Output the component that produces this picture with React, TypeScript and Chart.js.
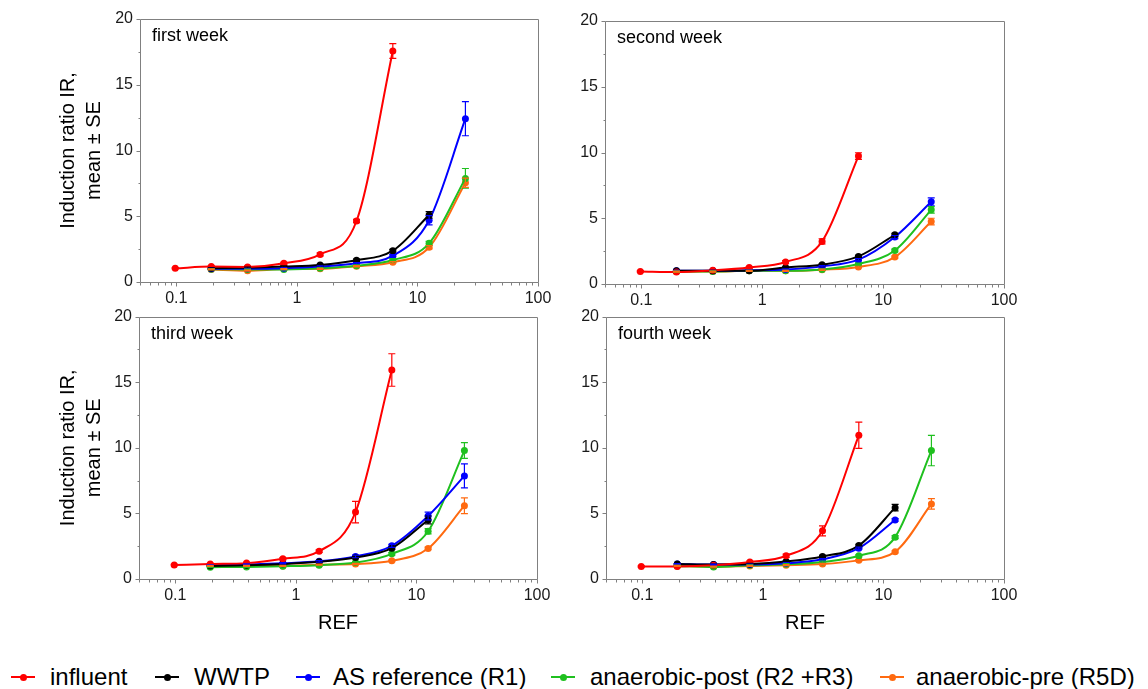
import React, { useEffect, useRef } from "react";
import { Chart, registerables } from "chart.js";

Chart.register(...registerables);

const FONT = "'Liberation Sans', Arial, Helvetica, sans-serif";

// ---------- data ----------
const doses = [0.098, 0.195, 0.39, 0.78, 1.56, 3.125, 6.25, 12.5, 25];
const xTickValues = [0.1, 1, 10, 100];
const yTickValues = [0, 5, 10, 15, 20];
const yMinorTickValues = [2.5, 7.5, 12.5, 17.5];
const seriesNames = ["influent", "WWTP", "AS reference (R1)", "anaerobic-post (R2 +R3)", "anaerobic-pre (R5D)"];
const seriesColors = ["#ff0000", "#000000", "#0000ff", "#1fc01f", "#ff6a10"];
const panelTitles = ["first week", "second week", "third week", "fourth week"];

// week 1
const w1Influent = [1.04, 1.17, 1.15, 1.42, 2.1, 4.64, 17.57, null, null];
const w1InfluentErr = [0.05, 0.05, 0.05, 0.08, 0.12, 0.12, 0.56, null, null];
const w1Wwtp = [null, 1.04, 1.09, 1.17, 1.29, 1.65, 2.38, 5.1, null];
const w1WwtpErr = [null, 0.05, 0.05, 0.05, 0.06, 0.1, 0.1, 0.25, null];
const w1As = [null, 1.0, 1.0, 1.04, 1.17, 1.42, 2.0, 4.7, 12.42];
const w1AsErr = [null, 0.04, 0.04, 0.05, 0.05, 0.06, 0.08, 0.35, 1.3];
const w1Post = [null, 0.97, 0.95, 0.96, 1.04, 1.24, 1.67, 2.94, 7.88];
const w1PostErr = [null, 0.04, 0.04, 0.04, 0.05, 0.06, 0.1, 0.15, 0.75];
const w1Pre = [null, 0.96, 0.86, 0.98, 1.0, 1.2, 1.5, 2.64, 7.55];
const w1PreErr = [null, 0.04, 0.04, 0.04, 0.04, 0.05, 0.06, 0.12, 0.35];

// week 2
const w2Influent = [0.96, 0.91, 1.04, 1.26, 1.67, 3.24, 9.73, null, null];
const w2InfluentErr = [0.05, 0.05, 0.05, 0.06, 0.1, 0.2, 0.25, null, null];
const w2Wwtp = [null, 1.0, 1.0, 1.0, 1.26, 1.47, 2.1, 3.74, null];
const w2WwtpErr = [null, 0.04, 0.04, 0.04, 0.05, 0.06, 0.08, 0.12, null];
const w2As = [null, 1.0, 1.0, 1.04, 1.1, 1.34, 1.85, 3.57, 6.25];
const w2AsErr = [null, 0.04, 0.04, 0.04, 0.05, 0.05, 0.08, 0.12, 0.3];
const w2Post = [null, 0.95, 0.96, 1.0, 1.0, 1.1, 1.52, 2.55, 5.64];
const w2PostErr = [null, 0.04, 0.04, 0.04, 0.04, 0.05, 0.06, 0.1, 0.25];
const w2Pre = [null, 0.95, 0.95, 1.0, 1.0, 1.09, 1.3, 2.05, 4.75];
const w2PreErr = [null, 0.04, 0.04, 0.04, 0.04, 0.05, 0.05, 0.08, 0.25];

// week 3
const w3Influent = [1.06, 1.14, 1.21, 1.54, 2.12, 5.1, 15.93, null, null];
const w3InfluentErr = [0.05, 0.05, 0.05, 0.08, 0.1, 0.82, 1.24, null, null];
const w3Wwtp = [null, 1.0, 1.04, 1.14, 1.31, 1.64, 2.35, 4.5, null];
const w3WwtpErr = [null, 0.04, 0.04, 0.05, 0.05, 0.08, 0.1, 0.3, null];
const w3As = [null, 1.05, 1.1, 1.2, 1.35, 1.72, 2.53, 4.8, 7.86];
const w3AsErr = [null, 0.04, 0.05, 0.05, 0.06, 0.1, 0.12, 0.3, 0.92];
const w3Post = [null, 0.9, 0.92, 0.97, 1.05, 1.25, 1.92, 3.64, 9.79];
const w3PostErr = [null, 0.04, 0.04, 0.04, 0.05, 0.06, 0.1, 0.2, 0.6];
const w3Pre = [null, 1.0, 1.0, 1.0, 1.09, 1.14, 1.39, 2.33, 5.59];
const w3PreErr = [null, 0.04, 0.04, 0.04, 0.04, 0.05, 0.06, 0.1, 0.6];

// week 4
const w4Influent = [0.96, 0.96, 1.04, 1.29, 1.77, 3.67, 10.95, null, null];
const w4InfluentErr = [0.05, 0.05, 0.05, 0.08, 0.12, 0.38, 1.0, null, null];
const w4Wwtp = [null, 1.14, 1.1, 1.14, 1.34, 1.72, 2.55, 5.44, null];
const w4WwtpErr = [null, 0.04, 0.04, 0.05, 0.05, 0.08, 0.1, 0.25, null];
const w4As = [null, 1.14, 1.1, 1.1, 1.2, 1.5, 2.35, 4.5, null];
const w4AsErr = [null, 0.04, 0.04, 0.04, 0.05, 0.06, 0.08, 0.1, null];
const w4Post = [null, 1.0, 0.91, 1.04, 1.12, 1.3, 1.77, 3.19, 9.79];
const w4PostErr = [null, 0.04, 0.04, 0.04, 0.05, 0.06, 0.08, 0.12, 1.16];
const w4Pre = [null, 1.0, 0.95, 1.0, 1.05, 1.14, 1.42, 2.07, 5.72];
const w4PreErr = [null, 0.04, 0.04, 0.04, 0.04, 0.05, 0.06, 0.08, 0.4];

const weekMeans = [
  [w1Influent, w1Wwtp, w1As, w1Post, w1Pre],
  [w2Influent, w2Wwtp, w2As, w2Post, w2Pre],
  [w3Influent, w3Wwtp, w3As, w3Post, w3Pre],
  [w4Influent, w4Wwtp, w4As, w4Post, w4Pre],
];
const weekErrs = [
  [w1InfluentErr, w1WwtpErr, w1AsErr, w1PostErr, w1PreErr],
  [w2InfluentErr, w2WwtpErr, w2AsErr, w2PostErr, w2PreErr],
  [w3InfluentErr, w3WwtpErr, w3AsErr, w3PostErr, w3PreErr],
  [w4InfluentErr, w4WwtpErr, w4AsErr, w4PostErr, w4PreErr],
];

// ---------- layout ----------
const panelLayouts = [
  { left: 0, top: 0, width: 560, height: 310, yW: 140, xH: 28, padTop: 19, padRight: 22, yTitle: true, xTitle: false },
  { left: 560, top: 0, width: 588, height: 310, yW: 45, xH: 26, padTop: 21, padRight: 144, yTitle: false, xTitle: false },
  { left: 0, top: 300, width: 560, height: 345, yW: 139, xH: 66, padTop: 16, padRight: 23, yTitle: true, xTitle: true },
  { left: 560, top: 300, width: 588, height: 345, yW: 46, xH: 66, padTop: 16, padRight: 144, yTitle: false, xTitle: true },
];

const legendItems = [
  { marker: 11, text: 50 },
  { marker: 155, text: 194 },
  { marker: 296, text: 333 },
  { marker: 551, text: 590 },
  { marker: 880, text: 916 },
];

const AXIS_COLOR = "#808080";

const decorPlugin = {
  id: "decor",
  afterDatasetsDraw(chart: any) {
    const ctx = chart.ctx;
    const xs = chart.scales.x;
    const ys = chart.scales.y;
    ctx.save();
    chart.data.datasets.forEach((ds: any) => {
      const errs = ds.errors || [];
      ctx.strokeStyle = ds.borderColor;
      ctx.lineWidth = 1.2;
      ds.data.forEach((p: any, i: number) => {
        const e = errs[i];
        if (!e) return;
        const x = xs.getPixelForValue(p.x);
        const y1 = ys.getPixelForValue(p.y + e);
        const y2 = ys.getPixelForValue(p.y - e);
        ctx.beginPath();
        ctx.moveTo(x, y1);
        ctx.lineTo(x, y2);
        ctx.moveTo(x - 3.5, y1);
        ctx.lineTo(x + 3.5, y1);
        ctx.moveTo(x - 3.5, y2);
        ctx.lineTo(x + 3.5, y2);
        ctx.stroke();
      });
    });
    ctx.restore();
  },
  afterDraw(chart: any, _args: any, opts: any) {
    const ctx = chart.ctx;
    const a = chart.chartArea;
    const xs = chart.scales.x;
    const ys = chart.scales.y;
    const L = Math.round(a.left) + 0.5;
    const R = Math.round(a.right) + 0.5;
    const T = Math.round(a.top) + 0.5;
    const B = Math.round(a.bottom) + 0.5;
    ctx.save();
    ctx.strokeStyle = AXIS_COLOR;
    ctx.lineWidth = 1;
    ctx.beginPath();
    ctx.rect(L, T, R - L, B - T);
    // y ticks
    yTickValues.forEach((v) => {
      const y = Math.round(ys.getPixelForValue(v)) + 0.5;
      ctx.moveTo(L - 4, y);
      ctx.lineTo(L, y);
    });
    yMinorTickValues.forEach((v) => {
      const y = Math.round(ys.getPixelForValue(v)) + 0.5;
      ctx.moveTo(L - 2, y);
      ctx.lineTo(L, y);
    });
    // x ticks (log decades)
    for (let d = -2; d <= 2; d++) {
      for (let k = 1; k <= 9; k++) {
        const v = k * Math.pow(10, d);
        if (v < xs.min * 0.999 || v > xs.max * 1.001) continue;
        const x = Math.round(xs.getPixelForValue(v)) + 0.5;
        ctx.moveTo(x, B);
        ctx.lineTo(x, B + (k === 1 ? 4 : 3));
      }
    }
    ctx.stroke();
    // panel title
    if (opts && opts.title) {
      ctx.fillStyle = "#000";
      ctx.font = `18px ${FONT}`;
      ctx.textBaseline = "middle";
      ctx.textAlign = "left";
      ctx.fillText(opts.title, a.left + 12, a.top + 17);
    }
    ctx.restore();
  },
};

function Panel({ idx }: { idx: number }) {
  const ref = useRef<HTMLCanvasElement | null>(null);
  const lay = panelLayouts[idx];
  useEffect(() => {
    if (!ref.current) return;
    const datasets = seriesNames.map((name, s) => {
      const means = weekMeans[idx][s];
      const errs = weekErrs[idx][s];
      const pts: any[] = [];
      const e: number[] = [];
      means.forEach((m, k) => {
        if (m != null) {
          pts.push({ x: doses[k], y: m });
          e.push((errs[k] as number) || 0);
        }
      });
      const c = seriesColors[s];
      return {
        label: name,
        data: pts,
        errors: e,
        borderColor: c,
        backgroundColor: c,
        pointBackgroundColor: c,
        pointBorderColor: c,
        pointRadius: 3.5,
        pointBorderWidth: 0,
        borderWidth: 2,
        cubicInterpolationMode: "monotone",
        fill: false,
      };
    });
    const chart = new Chart(ref.current, {
      type: "line",
      data: { datasets } as any,
      options: {
        responsive: false,
        animation: false,
        events: [],
        layout: { padding: { top: lay.padTop, right: lay.padRight, left: 0, bottom: 0 } },
        plugins: {
          legend: { display: false },
          tooltip: { enabled: false },
          decor: { title: panelTitles[idx] },
        } as any,
        scales: {
          x: {
            type: "logarithmic",
            min: 0.05,
            max: 100,
            afterBuildTicks: (scale: any) => {
              scale.ticks = xTickValues.map((v) => ({ value: v, major: true }));
            },
            afterFit: (scale: any) => {
              scale.height = lay.xH;
            },
            ticks: {
              autoSkip: false,
              maxRotation: 0,
              padding: 7,
              color: "#1a1a1a",
              font: { family: FONT, size: 16 },
              callback: (v: any) => String(v),
            },
            grid: { display: false, drawTicks: false },
            border: { display: false },
            title: {
              display: lay.xTitle,
              text: "REF",
              color: "#000",
              font: { family: FONT, size: 20, lineHeight: 1.2 },
              padding: { top: 0, bottom: 10 },
            },
          },
          y: {
            type: "linear",
            min: 0,
            max: 20,
            afterBuildTicks: (scale: any) => {
              scale.ticks = yTickValues.map((v) => ({ value: v }));
            },
            afterFit: (scale: any) => {
              scale.width = lay.yW;
            },
            ticks: {
              padding: 7,
              color: "#1a1a1a",
              font: { family: FONT, size: 16 },
            },
            grid: { display: false, drawTicks: false },
            border: { display: false },
            title: {
              display: lay.yTitle,
              text: ["Induction ratio IR,", "mean \u00b1 SE"],
              color: "#000",
              font: { family: FONT, size: 20, lineHeight: 1.3 },
              padding: { top: 55, bottom: 0 },
            },
          },
        },
      } as any,
      plugins: [decorPlugin as any],
    });
    return () => chart.destroy();
  }, [idx]);
  return (
    <canvas
      ref={ref}
      width={lay.width}
      height={lay.height}
      style={{ position: "absolute", left: lay.left, top: lay.top, width: lay.width, height: lay.height }}
    />
  );
}

export default function App() {
  return (
    <div style={{ position: "absolute", left: 0, top: 0, width: 1148, height: 689, background: "#fff", overflow: "hidden" }}>
      {[0, 1, 2, 3].map((i) => (
        <Panel key={i} idx={i} />
      ))}
      {seriesNames.map((name, i) => (
        <React.Fragment key={name}>
          <div
            style={{
              position: "absolute",
              left: legendItems[i].marker,
              top: 676,
              width: 24,
              height: 2,
              background: seriesColors[i],
            }}
          />
          <div
            style={{
              position: "absolute",
              left: legendItems[i].marker + 8.5,
              top: 673.5,
              width: 7,
              height: 7,
              borderRadius: "50%",
              background: seriesColors[i],
            }}
          />
          <div
            style={{
              position: "absolute",
              left: legendItems[i].text,
              top: 663,
              height: 28,
              lineHeight: "28px",
              fontFamily: FONT,
              fontSize: 24,
              color: "#000",
              whiteSpace: "nowrap",
            }}
          >
            {name}
          </div>
        </React.Fragment>
      ))}
    </div>
  );
}
